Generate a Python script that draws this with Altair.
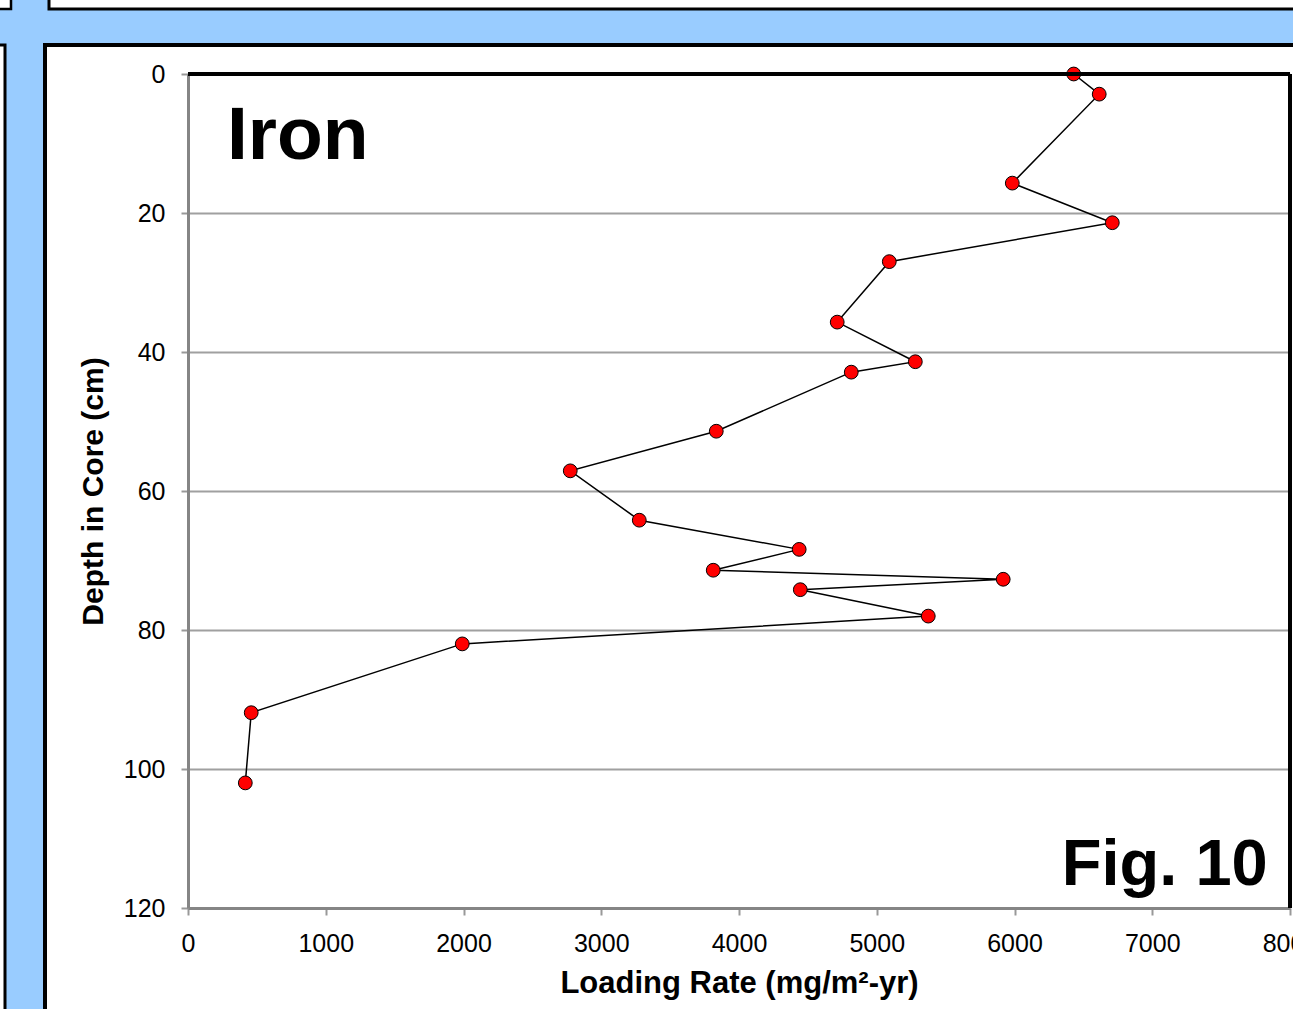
import altair as alt
import pandas as pd

# Iron loading rate down the sediment core
loading_rate = [6430, 6615, 5984, 6710, 5091, 4713, 5280, 4815, 3835, 2775,
                3276, 4437, 3813, 5918, 4445, 5374, 1991, 459, 416]
depth_cm = [0.0, 2.9, 15.7, 21.4, 27.0, 35.7, 41.4, 42.9, 51.4, 57.1,
            64.2, 68.4, 71.4, 72.7, 74.2, 78.0, 82.0, 91.9, 102.0]

x_ticks = [0, 1000, 2000, 3000, 4000, 5000, 6000, 7000, 8000]
y_ticks = [0, 20, 40, 60, 80, 100, 120]

df = pd.DataFrame({"rate": loading_rate, "depth": depth_cm, "order": list(range(len(depth_cm)))})
one = pd.DataFrame({"k": [0]})

FONT = "Liberation Sans"
BLUE = "#99CCFF"
W, H = 1102, 834
PL, PT = 188, 74

x_scale = alt.Scale(domain=[0, 8000], nice=False, zero=True)
y_scale = alt.Scale(domain=[0, 120], reverse=True, nice=False)


def box(x0, x1, y0, y1, fill, stroke=None, sw=0):
    """Page frame piece, given in page pixels."""
    kw = dict(fill=fill)
    if stroke:
        kw.update(stroke=stroke, strokeWidth=sw)
    return alt.Chart(one).mark_rect(**kw).encode(
        x=alt.value(x0 - PL), x2=alt.value(x1 - PL),
        y=alt.value(y0 - PT), y2=alt.value(y1 - PT),
    )


frame = [
    box(0, 1320, 0, 45, BLUE),
    box(0, 45, 0, 1020, BLUE),
    box(-5, 11, -5, 9, "white", "black", 2.5),
    box(49, 1320, -5, 9, "white", "black", 3),
    box(-5, 5, 45, 1030, "white", "black", 3),
    box(45, 1330, 45, 1030, "transparent", "black", 4),
]

base = alt.Chart(df)

x_enc = alt.X("rate:Q", scale=x_scale,
              axis=alt.Axis(values=x_ticks, grid=False, format="d",
                            title="Loading Rate (mg/m²-yr)",
                            titleFontSize=31, titlePadding=12))
y_enc = alt.Y("depth:Q", scale=y_scale,
              axis=alt.Axis(values=y_ticks, grid=True, format="d",
                            title="Depth in Core (cm)",
                            titleFontSize=30, titlePadding=15))

line = base.mark_line(color="black", strokeWidth=1.5).encode(
    x=x_enc, y=y_enc, order="order:O")
points = base.mark_point(filled=True, fill="#FF0000", stroke="black",
                         strokeWidth=1, size=190, opacity=1).encode(
    x="rate:Q", y="depth:Q")

top_border = alt.Chart(one).mark_rule(color="black", strokeWidth=4).encode(
    y=alt.datum(0, scale=y_scale))
right_border = alt.Chart(one).mark_rule(color="black", strokeWidth=4).encode(
    x=alt.datum(8000, scale=x_scale))

iron = alt.Chart(one).mark_text(text="Iron", font=FONT, fontSize=75,
                                fontWeight="bold", align="left",
                                baseline="alphabetic", color="black").encode(
    x=alt.datum(283), y=alt.datum(12.2))
fig = alt.Chart(one).mark_text(text="Fig. 10", font=FONT, fontSize=65,
                               fontWeight="bold", align="right",
                               baseline="alphabetic", color="black").encode(
    x=alt.datum(7838), y=alt.datum(116.7))

chart = alt.layer(*frame, line, points, top_border, right_border, iron, fig).properties(
    width=W, height=H,
    autosize=alt.AutoSizeParams(type="none"),
    padding={"left": PL, "top": PT, "right": 1293 - PL - W, "bottom": 1009 - PT - H},
    background="white",
).configure_view(stroke=None).configure_axis(
    labelFont=FONT, labelFontSize=25, labelColor="black",
    titleFont=FONT, titleFontWeight="bold", titleColor="black",
    domainColor="#858585", domainWidth=3,
    tickColor="#999999", tickWidth=2, tickSize=7,
    gridColor="#a0a0a0", gridWidth=2,
    labelPadding=16, labelOverlap=False, labelFlush=False,
)

chart.save("out.html", embed_options={"renderer": "svg", "actions": False})
